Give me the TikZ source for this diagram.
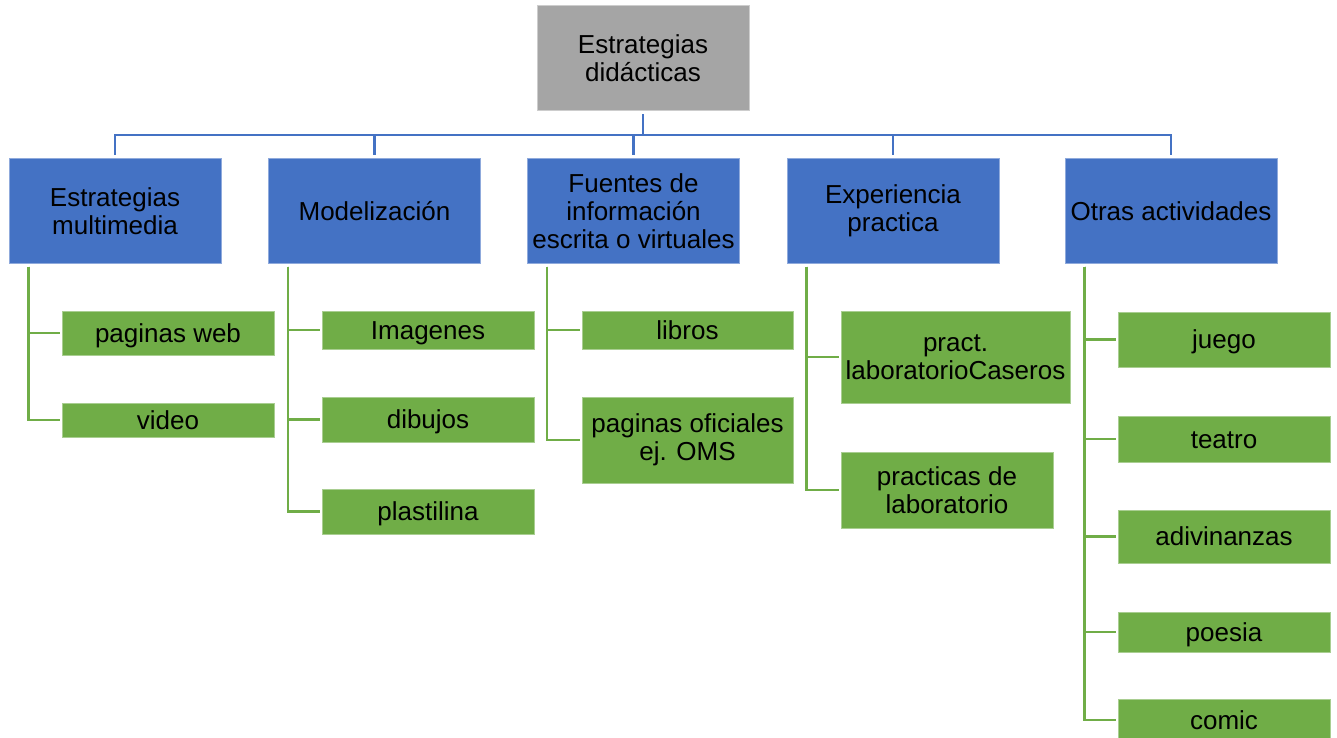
\documentclass[tikz,border=0pt]{standalone}
\usepackage{fontspec}
\setmainfont{Liberation Sans}
\definecolor{cblue}{HTML}{4472C4}
\definecolor{cgreen}{HTML}{70AD47}
\definecolor{cgray}{HTML}{A5A5A5}
\newcommand\topstrut{\rule{0pt}{17.6pt}}
\newcommand\botstrut{\rule[-4.1pt]{0pt}{4.1pt}}
\begin{document}
\begin{tikzpicture}[x=0.75pt,y=-0.75pt,
  base/.style 2 args={rectangle, inner sep=0pt, align=center, text=black,
    minimum width=#1*0.75pt, minimum height=#2*0.75pt, line width=0.75pt,
    font=\fontsize{19.5}{20.8}\selectfont},
  oneline/.style={execute at begin node=\topstrut, execute at end node=\botstrut},
  rootbox/.style 2 args={base={#1}{#2}, fill=cgray, draw=cgray!55!white},
  bluebox/.style 2 args={base={#1}{#2}, fill=cblue, draw=cblue!60!white},
  greenbox/.style 2 args={base={#1}{#2}, fill=cgreen, draw=cgreen!60!white},
  blueline/.style={draw=cblue, line width=1.6pt, shorten <=2.25pt, shorten >=2.25pt},
  greenline/.style={draw=cgreen, line width=1.9pt, shorten >=1.5pt}]
\useasboundingbox (0,0) rectangle (1337,738);
\fill[white] (0,0) rectangle (1337,738);

% root
\node[rootbox={212}{105}] (root) at (643,58.5) {Estrategias\\didácticas};

% level 1
\node[bluebox={212}{104}] (b1) at (115,211) {Estrategias\\multimedia};
\node[bluebox={212}{104}, oneline] (b2) at (374.5,211) {Modelización};
\node[bluebox={212}{104}] (b3) at (633.5,211) {Fuentes de\\información\\escrita o virtuales};
\node[bluebox={212}{104}] (b4) at (893,211) {Experiencia\\practica};
\node[bluebox={212}{104}, oneline] (b5) at (1171,211) {Otras actividades};

\coordinate (bar) at (643,135);
\foreach \b in {b1,b2,b3,b4,b5}
  \draw[blueline] (root.south) -- (bar) -| (\b.north);

% children of b1
\node[greenbox={212}{44}, oneline] (c11) at (168,333) {paginas web};
\node[greenbox={212}{34}, oneline] (c12) at (168,420) {video};
% children of b2
\node[greenbox={212}{38}, oneline] (c21) at (428,330) {Imagenes};
\node[greenbox={212}{45}, oneline] (c22) at (428,419.5) {dibujos};
\node[greenbox={212}{45}, oneline] (c23) at (428,511.5) {plastilina};
% children of b3
\node[greenbox={211}{38}, oneline] (c31) at (687.5,330) {libros};
\node[greenbox={211}{86}] (c32) at (687.5,440) {paginas oficiales\\ej. OMS};
% children of b4
\node[greenbox={229}{92}] (c41) at (955.5,357) {pract.\\laboratorioCaseros};
\node[greenbox={212}{76}] (c42) at (947,490) {practicas de\\laboratorio};
% children of b5
\node[greenbox={212}{55}, oneline] (c51) at (1224,339.5) {juego};
\node[greenbox={212}{46}, oneline] (c52) at (1224,439) {teatro};
\node[greenbox={212}{53}, oneline] (c53) at (1224,536.5) {adivinanzas};
\node[greenbox={212}{40}, oneline] (c54) at (1224,632) {poesia};
\node[greenbox={212}{42}, oneline] (c55) at (1224,720) {comic};

% green connectors
\foreach \p/\c in {b1/c11,b1/c12,b2/c21,b2/c22,b2/c23,b3/c31,b3/c32,b4/c41,b4/c42,b5/c51,b5/c52,b5/c53,b5/c54,b5/c55}
  \draw[greenline] ([xshift=15pt,yshift=-2.25pt]\p.south west) |- (\c.west);
\end{tikzpicture}
\end{document}
